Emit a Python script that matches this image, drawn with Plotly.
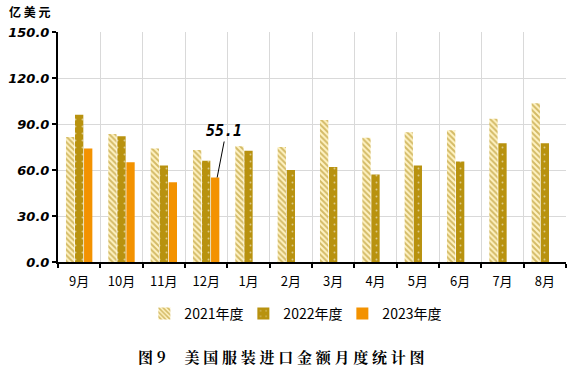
import plotly.graph_objects as go

months = ["9月", "10月", "11月", "12月", "1月", "2月", "3月", "4月", "5月", "6月", "7月", "8月"]
v2021 = [81.5, 83.5, 74.0, 73.0, 75.5, 75.0, 92.6, 81.0, 84.6, 86.0, 93.5, 103.5]
v2022 = [96.0, 82.0, 63.0, 66.0, 72.5, 60.0, 62.0, 57.0, 63.0, 65.5, 77.5, 77.5]
v2023 = [74.0, 65.0, 52.0, 55.1]
yticks = [0, 30, 60, 90, 120, 150]

fig = go.Figure()
fig.add_bar(name="2021年度", x=months, y=v2021,
            marker=dict(color="#FFF3C4", line=dict(width=0),
                        pattern=dict(shape="\\", fgcolor="#A88208", bgcolor="#FFF3C4",
                                     size=4, solidity=0.5)))
fig.add_bar(name="2022年度", x=months, y=v2022,
            marker=dict(color="#B8920F", line=dict(width=0),
                        pattern=dict(shape=".", fgcolor="#FFFFFF", bgcolor="#B8920F",
                                     size=7, solidity=0.06)))
fig.add_bar(name="2023年度", x=months[:4], y=v2023,
            marker=dict(color="#F39200", line=dict(width=0)))

fig.update_layout(
    width=577, height=390, barmode="group", bargap=0.36, bargroupgap=0.08,
    plot_bgcolor="white", paper_bgcolor="white",
    margin=dict(l=58, r=11, t=32, b=128, autoexpand=False),
    font=dict(family="Noto Sans CJK SC", color="#000000"),
    legend=dict(orientation="h", x=0.17, xanchor="left", yref="container",
                y=0.195, yanchor="middle", entrywidth=54,
                font=dict(size=14, family="Noto Sans CJK SC"), traceorder="normal",
                itemwidth=30, tracegroupgap=0),
    showlegend=True,
)
fig.update_xaxes(type="category", tickson="boundaries", showgrid=True, gridcolor="#D9D9D9",
                 showline=True, linecolor="#000000", linewidth=2, ticks="outside",
                 ticklen=4, tickcolor="#000000", tickwidth=2, automargin=False,
                 ticklabelstandoff=6,
                 tickfont=dict(size=13, family="Noto Sans CJK SC"))
fig.update_yaxes(range=[0, 150], tickvals=yticks, tickformat=".1f", showgrid=True,
                 gridcolor="#D9D9D9", showline=True, linecolor="#000000", linewidth=2,
                 ticks="outside", ticklen=4, tickwidth=2, tickcolor="#000000",
                 zeroline=False, automargin=False,
                 tickfont=dict(size=13, family="DejaVu Sans", weight="bold", style="italic"))

fig.add_annotation(x="12月", y=55.1, xshift=11, text="<b><i>55.1</i></b>",
                   showarrow=True, arrowhead=0, arrowwidth=1, arrowcolor="#000000",
                   ax=7, ay=-36, font=dict(size=15, family="DejaVu Sans Mono"),
                   yanchor="bottom", standoff=0)
fig.add_annotation(xref="paper", yref="paper", x=-0.1, y=1.09, xanchor="left",
                   yanchor="middle", showarrow=False, text="<b>亿 美 元</b>",
                   font=dict(size=12, family="Noto Sans CJK SC"))
fig.add_annotation(xref="paper", yref="paper", x=0.439, y=-0.413, xanchor="center",
                   yanchor="middle", showarrow=False,
                   text="<b>图 9　 美 国 服 装 进 口 金 额 月 度 统 计 图</b>",
                   font=dict(size=15, family="Noto Serif CJK SC, Noto Sans CJK SC"))

fig.write_html("out.html", config={"displayModeBar": False},
               post_script="document.body.style.margin='0';")
